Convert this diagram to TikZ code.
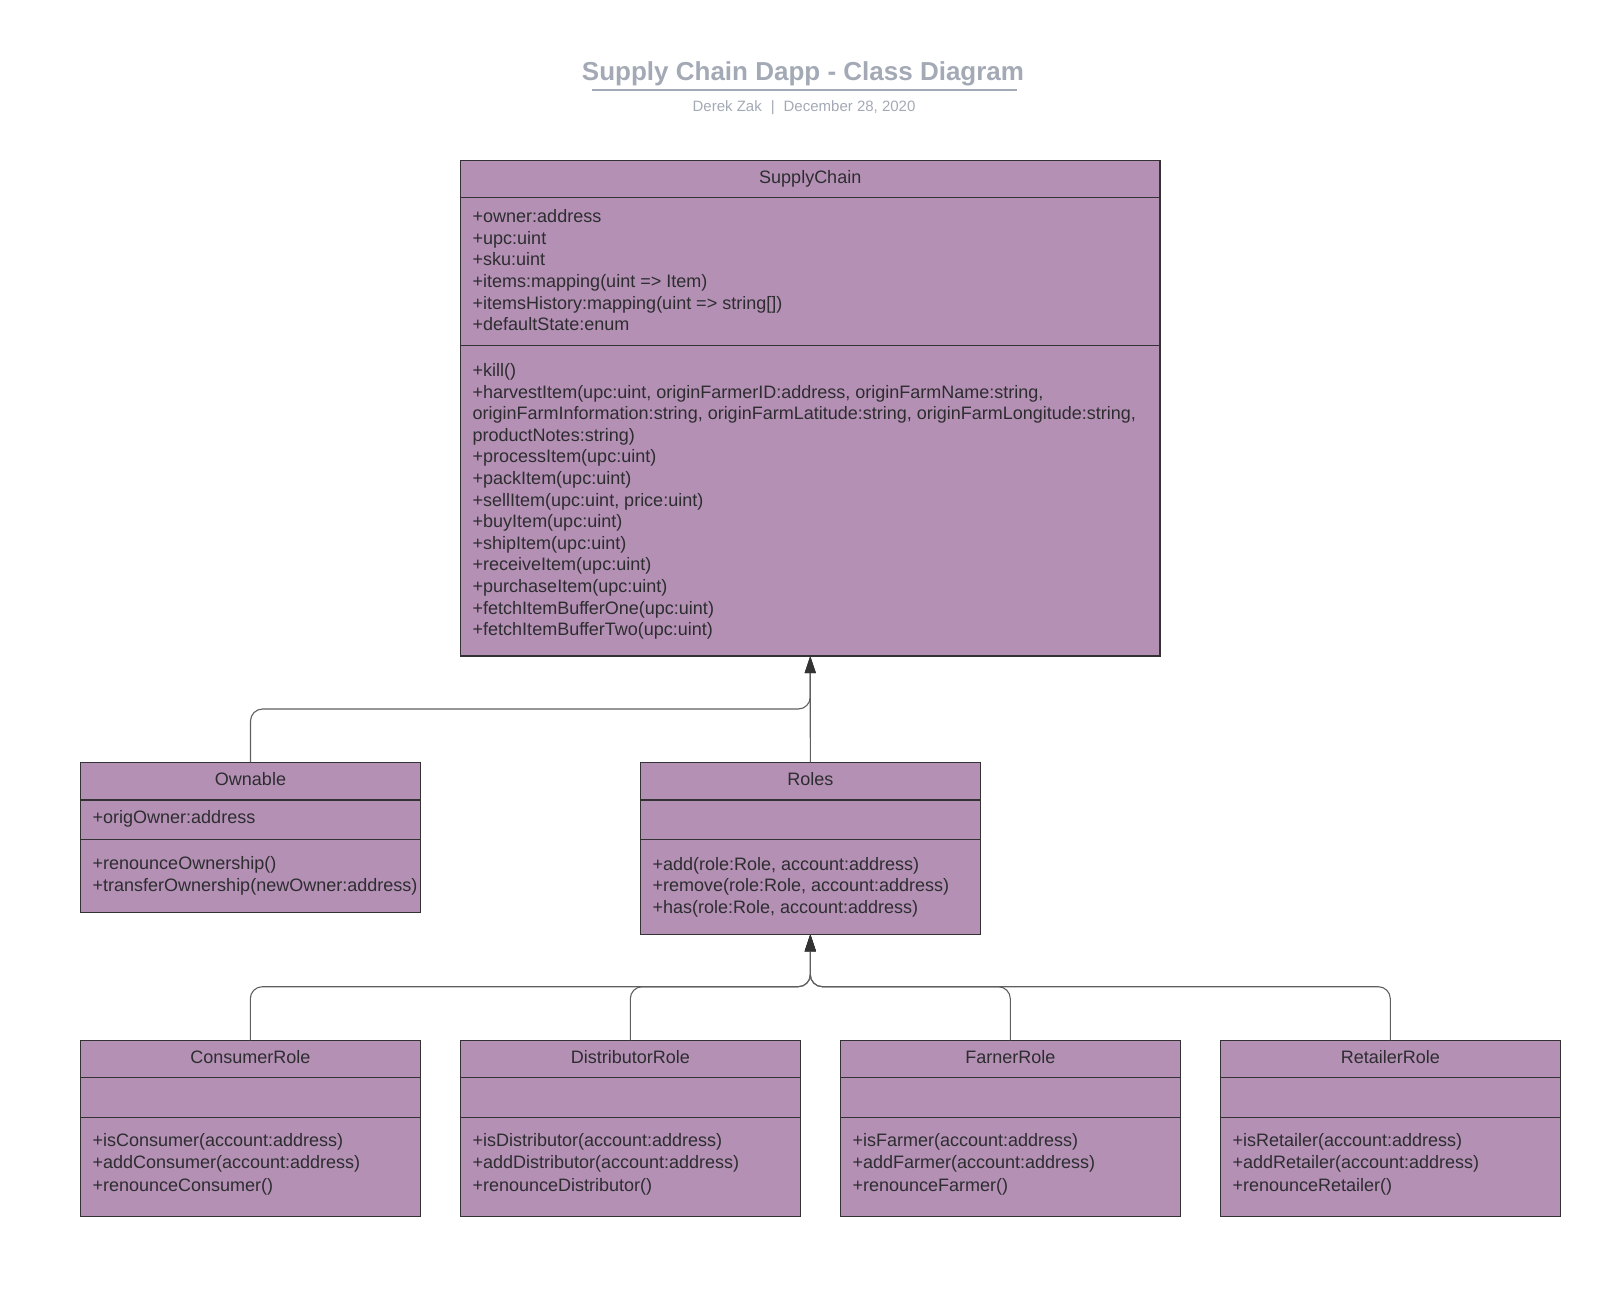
\documentclass[tikz,border=0pt]{standalone}
\usepackage{fontspec}
\setmainfont{Liberation Sans}
\usepackage{xcolor}
\usepackage{tikz}
\usetikzlibrary{positioning,arrows.meta}
\definecolor{classfill}{RGB}{179,144,180}
\definecolor{classline}{RGB}{51,51,51}
\definecolor{classtext}{RGB}{45,45,48}
\definecolor{connline}{RGB}{95,95,95}
\definecolor{titlegray}{RGB}{163,169,181}
\tikzset{
  classpart/.style={rectangle, draw=classline, fill=classfill, line width=1.2pt, inner sep=0pt, outer sep=0pt, anchor=north west},
  wide/.style={minimum width=699.5pt},
  narrow/.style={minimum width=340pt},
  classname/.style={font=\fontsize{18}{21.6}\selectfont, text=classtext, inner sep=0pt},
  members/.style={font=\fontsize{18}{21.6}\selectfont, text=classtext, align=left, inner sep=0pt, execute at begin node=\strut},
  inherit/.style={draw=connline, line width=1.1pt, rounded corners=12pt, -{Triangle[length=17pt,width=11pt,color=classline]}},
}
\begin{document}
\begin{tikzpicture}[x=1pt,y=-1pt]
\useasboundingbox (0,0) rectangle (1600,1314);
\node[font=\bfseries\fontsize{26}{30}\selectfont, text=titlegray, anchor=base, inner sep=0pt] (title) at (803,80.5) {Supply Chain Dapp - Class Diagram};
\draw[titlegray, line width=1.8pt] (592,90.3) -- (1016.7,90.3);
\node[font=\fontsize{15}{18}\selectfont, text=titlegray, anchor=base, inner sep=0pt] (byline) at (804,111) {Derek Zak\hspace{9pt}|\hspace{9pt}December 28, 2020};

\node[classpart, wide, minimum height=36.7pt] (schead) at (460.5,160.7) {};
\node[classpart, wide, below=0pt of schead, minimum height=148.3pt] (scattr) {};
\node[classpart, wide, below=0pt of scattr, minimum height=310.3pt] (scmeth) {};
\node[classname, below=22.5pt of schead.north, anchor=base] (scname) {SupplyChain};
\node[members, below right=12pt and 12pt of scattr.north west] (scattrtext) {+owner:address\\+upc:uint\\+sku:uint\\+items:mapping(uint => Item)\\+itemsHistory:mapping(uint => string[])\\+defaultState:enum};
\node[members, below right=17.5pt and 12pt of scmeth.north west] (scmethtext) {+kill()\\+harvestItem(upc:uint, originFarmerID:address, originFarmName:string,\\originFarmInformation:string, originFarmLatitude:string, originFarmLongitude:string,\\productNotes:string)\\+processItem(upc:uint)\\+packItem(upc:uint)\\+sellItem(upc:uint, price:uint)\\+buyItem(upc:uint)\\+shipItem(upc:uint)\\+receiveItem(upc:uint)\\+purchaseItem(upc:uint)\\+fetchItemBufferOne(upc:uint)\\+fetchItemBufferTwo(upc:uint)};

\node[classpart, narrow, minimum height=37.7pt] (ownhead) at (80.5,762.3) {};
\node[classpart, narrow, below=0pt of ownhead, minimum height=39.3pt] (ownattr) {};
\node[classpart, narrow, below=0pt of ownattr, minimum height=73pt] (ownmeth) {};
\node[classname, below=22.7pt of ownhead.north, anchor=base] (ownname) {Ownable};
\node[members, below right=8.5pt and 12pt of ownattr.north west] (ownattrtext) {+origOwner:address};
\node[members, below right=17pt and 12pt of ownmeth.north west] (ownmethtext) {+renounceOwnership()\\+transferOwnership(newOwner:address)};

\node[classpart, narrow, minimum height=37.7pt] (roleshead) at (640.3,762.3) {};
\node[classpart, narrow, below=0pt of roleshead, minimum height=39.3pt] (rolesattr) {};
\node[classpart, narrow, below=0pt of rolesattr, minimum height=95pt] (rolesmeth) {};
\node[classname, below=22.7pt of roleshead.north, anchor=base] (rolesname) {Roles};
\node[members, below right=17.8pt and 12pt of rolesmeth.north west] (rolesmethtext) {+add(role:Role, account:address)\\+remove(role:Role, account:address)\\+has(role:Role, account:address)};

\node[classpart, narrow, minimum height=37pt] (conshead) at (80.3,1040.3) {};
\node[classpart, narrow, below=0pt of conshead, minimum height=40.4pt] (consattr) {};
\node[classpart, narrow, below=0pt of consattr, minimum height=98.5pt] (consmeth) {};
\node[classname, below=22.7pt of conshead.north, anchor=base] (consname) {ConsumerRole};
\node[members, below right=15.5pt and 12pt of consmeth.north west] (consmethtext) {+isConsumer(account:address)\\+addConsumer(account:address)\\[2pt]+renounceConsumer()};

\node[classpart, narrow, minimum height=37pt] (disthead) at (460.3,1040.3) {};
\node[classpart, narrow, below=0pt of disthead, minimum height=40.4pt] (distattr) {};
\node[classpart, narrow, below=0pt of distattr, minimum height=98.5pt] (distmeth) {};
\node[classname, below=22.7pt of disthead.north, anchor=base] (distname) {DistributorRole};
\node[members, below right=15.5pt and 12pt of distmeth.north west] (distmethtext) {+isDistributor(account:address)\\+addDistributor(account:address)\\[2pt]+renounceDistributor()};

\node[classpart, narrow, minimum height=37pt] (farmhead) at (840.3,1040.3) {};
\node[classpart, narrow, below=0pt of farmhead, minimum height=40.4pt] (farmattr) {};
\node[classpart, narrow, below=0pt of farmattr, minimum height=98.5pt] (farmmeth) {};
\node[classname, below=22.7pt of farmhead.north, anchor=base] (farmname) {FarnerRole};
\node[members, below right=15.5pt and 12pt of farmmeth.north west] (farmmethtext) {+isFarmer(account:address)\\+addFarmer(account:address)\\[2pt]+renounceFarmer()};

\node[classpart, narrow, minimum height=37pt] (rethead) at (1220.3,1040.3) {};
\node[classpart, narrow, below=0pt of rethead, minimum height=40.4pt] (retattr) {};
\node[classpart, narrow, below=0pt of retattr, minimum height=98.5pt] (retmeth) {};
\node[classname, below=22.7pt of rethead.north, anchor=base] (retname) {RetailerRole};
\node[members, below right=15.5pt and 12pt of retmeth.north west] (retmethtext) {+isRetailer(account:address)\\+addRetailer(account:address)\\[2pt]+renounceRetailer()};

\coordinate (uplevel) at (0,709);
\coordinate (downlevel) at (0,986.7);
\draw[inherit] (ownhead.north) |- (scmeth.south |- uplevel) -- (scmeth.south);
\draw[inherit] (roleshead.north) -- (scmeth.south);
\draw[inherit] (conshead.north) |- (rolesmeth.south |- downlevel) -- (rolesmeth.south);
\draw[inherit] (disthead.north) |- (rolesmeth.south |- downlevel) -- (rolesmeth.south);
\draw[inherit] (farmhead.north) |- (rolesmeth.south |- downlevel) -- (rolesmeth.south);
\draw[inherit] (rethead.north) |- (rolesmeth.south |- downlevel) -- (rolesmeth.south);
\end{tikzpicture}
\end{document}
